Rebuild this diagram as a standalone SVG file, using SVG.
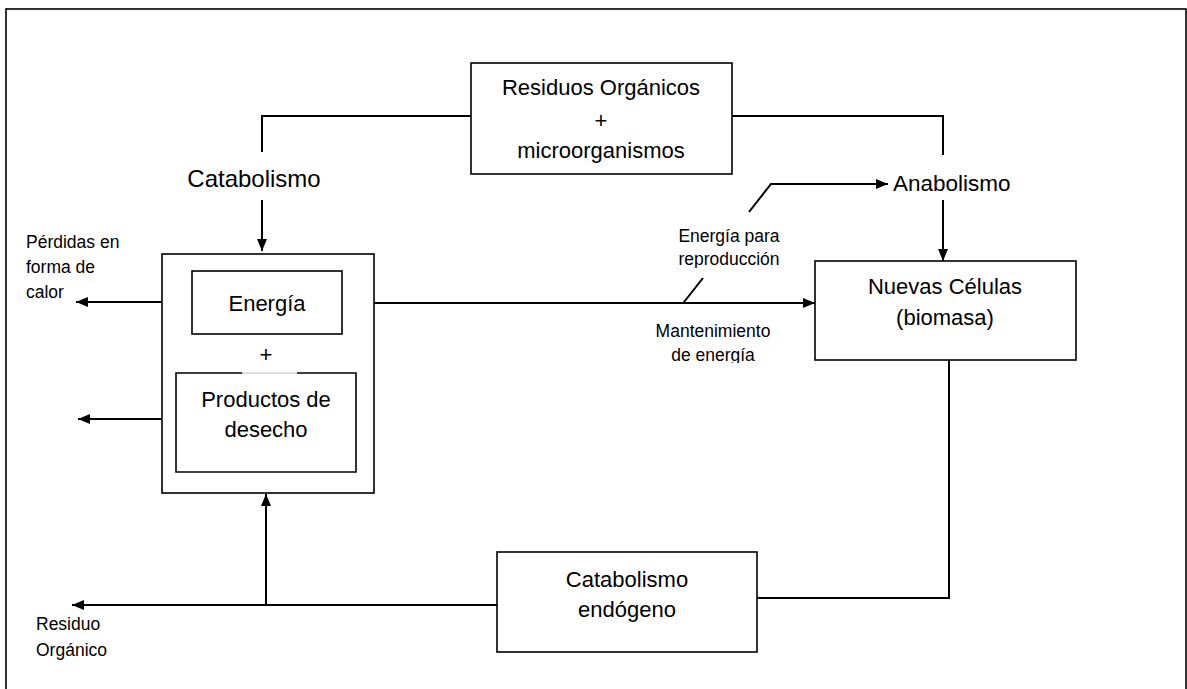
<svg xmlns="http://www.w3.org/2000/svg" width="1187" height="689" viewBox="0 0 1187 689">
<style>
text{font-family:"Liberation Sans",Arial,sans-serif;fill:#000}
.big{font-size:22px;text-anchor:middle}
.sm{font-size:17.5px}
.smc{font-size:17.5px;text-anchor:middle}
.box{fill:#fff;stroke:#000;stroke-width:1.6}
.ln{fill:none;stroke:#000;stroke-width:2}
</style>
<defs>
<marker id="ah" viewBox="0 0 12 10" refX="12" refY="5" markerWidth="12" markerHeight="10" markerUnits="userSpaceOnUse" orient="auto">
<path d="M0,0 L12,5 L0,10 Z" fill="#000"/>
</marker>
<clipPath id="clipRep"><rect x="600" y="220" width="250" height="48"/></clipPath>
<clipPath id="clipMan"><rect x="600" y="310" width="250" height="53"/></clipPath>
</defs>
<rect x="6" y="9" width="1180" height="700" fill="#fff" stroke="#000" stroke-width="1.6"/>

<g id="connectors">
<polyline class="ln" points="262,152 262,116 471,116"/>
<polyline class="ln" points="732,116 943,116 943,155"/>
<line class="ln" x1="262" y1="200" x2="262" y2="251" marker-end="url(#ah)"/>
<line class="ln" x1="943" y1="200" x2="943" y2="261" marker-end="url(#ah)"/>
<line class="ln" x1="342" y1="303" x2="815" y2="303" marker-end="url(#ah)"/>
<line class="ln" x1="684" y1="302" x2="703" y2="278"/>
<polyline class="ln" points="749,212 771,184 888,184" marker-end="url(#ah)"/>
<line class="ln" x1="192" y1="302" x2="76" y2="302" marker-end="url(#ah)"/>
<line class="ln" x1="176" y1="419" x2="78" y2="419" marker-end="url(#ah)"/>
<polyline class="ln" points="949,360 949,598 757,598"/>
<line class="ln" x1="497" y1="605" x2="72" y2="605" marker-end="url(#ah)"/>
<line class="ln" x1="266" y1="605" x2="266" y2="494" marker-end="url(#ah)"/>
</g>

<g id="residuos">
<rect class="box" x="471" y="63" width="261" height="111"/>
<text class="big" x="601" y="95">Residuos Orgánicos</text>
<text class="big" x="601" y="128">+</text>
<text class="big" x="601" y="158">microorganismos</text>
</g>

<g id="catabolismo-label">
<text x="254" y="187" style="font-size:24px;text-anchor:middle">Catabolismo</text>
</g>

<g id="anabolismo-label">
<text x="893" y="191" style="font-size:22.5px">Anabolismo</text>
</g>

<g id="contenedor">
<rect class="box" x="162" y="254" width="212" height="239"/>
</g>

<g id="energia">
<rect class="box" x="192" y="271" width="150" height="63"/>
<text class="big" x="267" y="311">Energía</text>
</g>

<g id="mas">
<text class="big" x="266" y="362">+</text>
</g>

<g id="productos">
<rect x="176" y="373" width="180" height="99" fill="#fff" stroke="none"/>
<polyline points="242,373 176,373 176,472 356,472 356,373 297,373" fill="none" stroke="#000" stroke-width="1.6"/>
<line x1="242" y1="373" x2="297" y2="373" stroke="#bbb" stroke-width="1"/>
<text class="big" x="266" y="407">Productos de</text>
<text class="big" x="266" y="437">desecho</text>
</g>

<g id="nuevas">
<rect class="box" x="815" y="261" width="261" height="99"/>
<text class="big" x="945" y="294">Nuevas Células</text>
<text class="big" x="945" y="325">(biomasa)</text>
</g>

<g id="endogeno">
<rect class="box" x="497" y="552" width="260" height="100"/>
<text class="big" x="627" y="587">Catabolismo</text>
<text class="big" x="627" y="617">endógeno</text>
</g>

<g id="labels">
<text class="sm" x="26" y="248">Pérdidas en</text>
<text class="sm" x="26" y="273">forma de</text>
<text class="sm" x="26" y="298">calor</text>
<g clip-path="url(#clipRep)">
<text class="smc" x="729" y="242">Energía para</text>
<text class="smc" x="729" y="265">reproducción</text>
</g>
<g clip-path="url(#clipMan)">
<text class="smc" x="713" y="337">Mantenimiento</text>
<text class="smc" x="713" y="361">de energía</text>
</g>
<text class="sm" x="36" y="630">Residuo</text>
<text class="sm" x="36" y="656">Orgánico</text>
</g>
</svg>
